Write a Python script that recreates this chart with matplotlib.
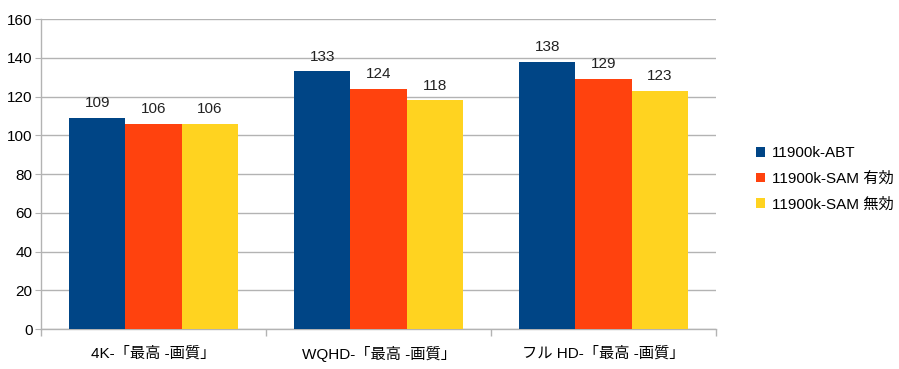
import matplotlib
matplotlib.use("Agg")
import matplotlib.pyplot as plt
import numpy as np

plt.rcParams['font.family'] = ['Liberation Sans', 'Noto Sans CJK JP', 'DejaVu Sans']

categories = ["4K-「最高 -画質」", "WQHD-「最高 -画質」", "フル HD-「最高 -画質」"]
series_names = ["11900k-ABT", "11900k-SAM 有効", "11900k-SAM 無効"]
abt = [109, 133, 138]
sam_on = [106, 124, 129]
sam_off = [106, 118, 123]
colors = ["#004586", "#ff420e", "#ffd320"]

fs = 11
fig = plt.figure(figsize=(8.99, 3.69), dpi=100)
ax = fig.add_axes([0.0456, 0.108, 0.751, 0.8405])

x = np.arange(len(categories))
w = 0.25
for i, (vals, name, c) in enumerate(zip([abt, sam_on, sam_off], series_names, colors)):
    bars = ax.bar(x + (i - 1) * w, vals, width=w, color=c, label=name, zorder=3)
    for b, v in zip(bars, vals):
        ax.text(b.get_x() + b.get_width() / 2, v + 4, str(v), ha='center', va='bottom',
                fontsize=fs, color='#222222')

ax.set_xlim(-0.5, len(categories) - 0.5)
ax.set_ylim(0, 160)
ax.set_yticks(range(0, 161, 20))
ax.yaxis.grid(True, color='#b3b3b3', linewidth=1, zorder=0)
ax.set_xticks(x)
ax.set_xticklabels(categories, fontsize=fs)
ax.set_xticks(np.arange(-0.5, len(categories), 1), minor=True)
ax.tick_params(axis='x', which='major', length=0, pad=12)
ax.tick_params(axis='x', which='minor', length=5, color='#b3b3b3', width=1)
ax.tick_params(axis='y', length=4, color='#b3b3b3', labelsize=fs, pad=2)
for s in ['top', 'right']:
    ax.spines[s].set_visible(False)
for s in ['left', 'bottom']:
    ax.spines[s].set_color('#b3b3b3')
    ax.spines[s].set_linewidth(1)

leg = fig.legend(loc='center left', bbox_to_anchor=(0.826, 0.515), frameon=False,
                 fontsize=fs, handlelength=0.6, handleheight=0.6, handletextpad=0.4,
                 labelspacing=0.75)

fig.savefig("out.png", dpi=100)
